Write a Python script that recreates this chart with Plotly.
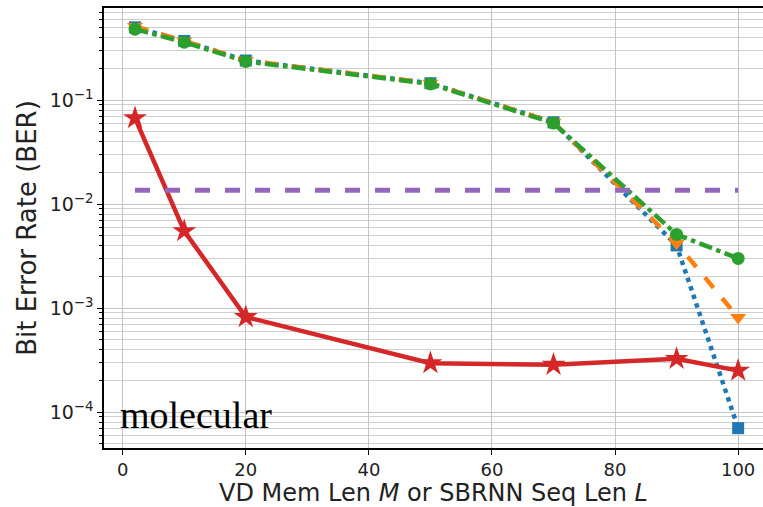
import plotly.graph_objects as go

x_vals = [2, 10, 20, 50, 70, 90, 100]
ber_blue = [0.50, 0.37, 0.24, 0.145, 0.061, 0.0040, 0.00007]
ber_orange = [0.51, 0.37, 0.24, 0.145, 0.061, 0.0042, 0.00081]
ber_green = [0.48, 0.36, 0.235, 0.143, 0.060, 0.0051, 0.0030]
ber_red = [0.067, 0.0055, 0.00082, 0.000295, 0.000285, 0.000325, 0.00025]
baseline_x = [2, 100]
baseline_ber = [0.0136, 0.0136]

ytick_vals = [1e-4, 1e-3, 1e-2, 1e-1]
ytick_exp = ["−4", "−3", "−2", "−1"]
ytick_text = ["10<sup>%s</sup>" % e for e in ytick_exp]
minor_vals = [m * 10.0 ** e for e in range(-5, 0) for m in range(2, 10)]

fig = go.Figure()
fig.add_trace(go.Scatter(x=x_vals, y=ber_blue, mode="lines+markers",
                         line=dict(color="#1f77b4", width=4.5, dash="dot"),
                         marker=dict(symbol="square", size=12, color="#1f77b4")))
fig.add_trace(go.Scatter(x=x_vals, y=ber_orange, mode="lines+markers",
                         line=dict(color="#ff7f0e", width=4.5, dash="dash"),
                         marker=dict(symbol="triangle-down", size=14, color="#ff7f0e")))
fig.add_trace(go.Scatter(x=x_vals, y=ber_green, mode="lines+markers",
                         line=dict(color="#2ca02c", width=4.5, dash="dashdot"),
                         marker=dict(symbol="circle", size=13, color="#2ca02c")))
fig.add_trace(go.Scatter(x=x_vals, y=ber_red, mode="lines+markers",
                         line=dict(color="#d62728", width=4.5),
                         marker=dict(symbol="star", size=18, color="#d62728")))
fig.add_trace(go.Scatter(x=baseline_x, y=baseline_ber, mode="lines",
                         line=dict(color="#9467bd", width=5, dash="dash")))

fig.add_annotation(text="molecular", xref="paper", yref="paper", x=0.022, y=0.022,
                   xanchor="left", yanchor="bottom", showarrow=False,
                   font=dict(family="Liberation Serif", size=38, color="black"))

fig.update_layout(
    width=763, height=507,
    margin=dict(l=104, r=0, t=8, b=59),
    plot_bgcolor="white", paper_bgcolor="white",
    showlegend=False,
    font=dict(family="DejaVu Sans", size=18, color="#222222"),
)
fig.update_xaxes(
    range=[-3.04, 104.04],
    tickvals=[0, 20, 40, 60, 80, 100],
    tickfont=dict(size=18),
    showgrid=True, gridcolor="#c4c4c4", gridwidth=1,
    showline=True, linecolor="black", linewidth=1.5, mirror=True,
    ticks="outside", ticklen=5, tickcolor="black",
    zeroline=False,
    title=dict(text="VD Mem Len <i>M</i> or SBRNN Seq Len <i>L</i>", font=dict(size=24), standoff=8),
)
fig.update_yaxes(
    type="log",
    range=[-4.346, -0.115],
    tickvals=ytick_vals, ticktext=ytick_text,
    tickfont=dict(size=19),
    showgrid=True, gridcolor="#c4c4c4", gridwidth=1,
    minor=dict(tickvals=minor_vals, showgrid=True, gridcolor="#cfcfcf", gridwidth=1,
               ticks="outside", ticklen=3, tickcolor="black"),
    showline=True, linecolor="black", linewidth=1.5, mirror=False,
    ticks="outside", ticklen=5, tickcolor="black",
    zeroline=False,
    title=dict(text="Bit Error Rate (BER)", font=dict(size=26), standoff=6),
)

fig.write_html("out.html")
